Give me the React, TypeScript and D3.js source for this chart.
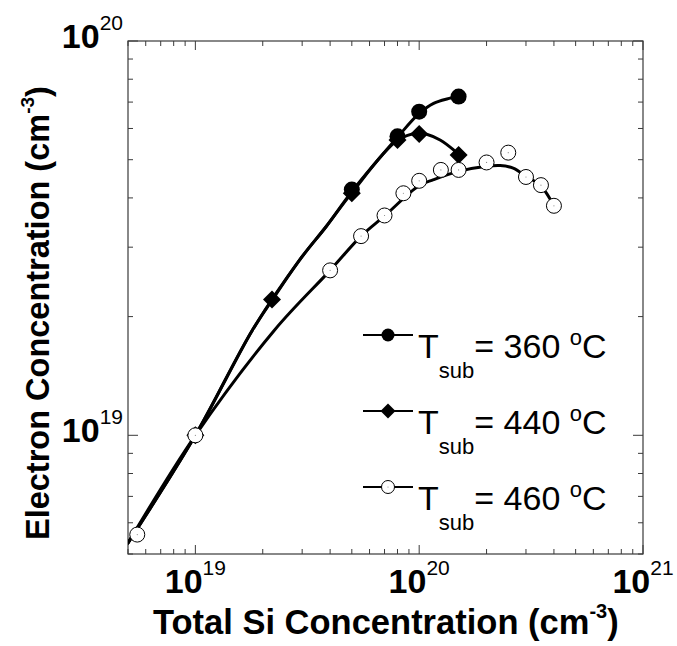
import React from 'react';
import * as d3 from 'd3';

// Data
const s360X = [5e19, 8e19, 1e20, 1.5e20];
const s360Y = [4.2e19, 5.73e19, 6.62e19, 7.23e19];

const s440X = [1e19, 2.2e19, 5e19, 8e19, 1e20, 1.5e20];
const s440Y = [1e19, 2.21e19, 4.11e19, 5.61e19, 5.81e19, 5.14e19];

const s460X = [5.5e18, 1e19, 4e19, 5.5e19, 7e19, 8.5e19, 1e20, 1.25e20, 1.5e20, 2e20, 2.5e20, 3e20, 3.5e20, 4e20];
const s460Y = [5.6e18, 1e19, 2.62e19, 3.2e19, 3.61e19, 4.11e19, 4.42e19, 4.71e19, 4.71e19, 4.92e19, 5.21e19, 4.52e19, 4.31e19, 3.82e19];

// Fitted curves
const fit360X = [5e18, 1e19, 1.8e19, 2.93e19, 3.85e19, 5e19, 8e19, 1e20, 1.16e20, 1.33e20, 1.5e20];
const fit360Y = [5.33e18, 1e19, 1.85e19, 2.79e19, 3.39e19, 4.15e19, 5.7e19, 6.55e19, 6.95e19, 7.13e19, 7.22e19];

const fit440X = [5e18, 1e19, 1.8e19, 2.2e19, 2.93e19, 3.85e19, 5e19, 8e19, 1e20, 1.08e20, 1.24e20, 1.42e20, 1.5e20];
const fit440Y = [5.33e18, 1e19, 1.85e19, 2.2e19, 2.79e19, 3.39e19, 4.12e19, 5.6e19, 5.84e19, 5.8e19, 5.61e19, 5.3e19, 5.14e19];

const fit460X = [5e18, 1e19, 2.26e19, 4e19, 5.5e19, 7e19, 1e20, 1.16e20, 1.5e20, 2e20, 2.3e20, 2.63e20, 3.02e20, 3.47e20, 3.85e20];
const fit460Y = [5.33e18, 1e19, 1.85e19, 2.62e19, 3.2e19, 3.6e19, 4.3e19, 4.45e19, 4.67e19, 4.81e19, 4.83e19, 4.76e19, 4.53e19, 4.31e19, 3.97e19];

const xDomain = [5e18, 1e21];
const yDomain = [5e18, 1e20];
const xMajor = [19, 20, 21];
const yMajor = [19, 20];
const legendTemps = ['360', '440', '460'];

const FONT = '"Liberation Sans", Arial, Helvetica, sans-serif';

const W = 677, H = 646;
const L = 128, R = 643, T = 41, B = 554;

function minorTicks(domain: number[]) {
  const out: number[] = [];
  for (let d = 18; d <= 21; d++) {
    for (let m = 1; m <= 9; m++) {
      const v = m * Math.pow(10, d);
      if (v >= domain[0] * 0.9999 && v <= domain[1] * 1.0001) out.push(v);
    }
  }
  return out;
}

const Diamond = ({ cx, cy, s }: { cx: number; cy: number; s: number }) => (
  <path d={`M${cx},${cy - s}L${cx + s},${cy}L${cx},${cy + s}L${cx - s},${cy}Z`} fill="#000" />
);

const OpenCircle = ({ cx, cy, r }: { cx: number; cy: number; r: number }) => (
  <g>
    <circle cx={cx} cy={cy} r={r} fill="#fff" stroke="#000" strokeWidth={1} />
    <circle cx={cx} cy={cy} r={0.6} fill="#888" />
  </g>
);

export default function App() {
  const x = d3.scaleLog().domain(xDomain).range([L, R]);
  const y = d3.scaleLog().domain(yDomain).range([B, T]);
  const line = d3
    .line<[number, number]>()
    .x((d) => x(d[0]))
    .y((d) => y(d[1]))
    .curve(d3.curveCatmullRom.alpha(0.5));

  const zip = (a: number[], b: number[]) => a.map((v, i) => [v, b[i]] as [number, number]);

  const xt = minorTicks(xDomain);
  const yt = minorTicks(yDomain);
  const isMajor = (v: number) => Math.abs(Math.log10(v) - Math.round(Math.log10(v))) < 1e-9;

  const axisColor = '#3a3a3a';

  const legendRows = [0, 1, 2].map((i) => ({ temp: legendTemps[i], cy: 335 + i * 76 }));

  return (
    <svg width={W} height={H} style={{ position: 'absolute', left: 0, top: 0, background: '#fff' }} fontFamily={FONT}>
      <rect x={0} y={0} width={W} height={H} fill="#fff" />
      <defs>
        <clipPath id="plotclip">
          <rect x={L} y={T} width={R - L} height={B - T} />
        </clipPath>
      </defs>

      {/* frame */}
      <rect x={L} y={T} width={R - L} height={B - T} fill="none" stroke={axisColor} strokeWidth={1.2} />

      {/* x ticks */}
      {xt.map((v, i) => {
        const px = x(v);
        const len = isMajor(v) ? 9 : 5;
        return (
          <g key={'xt' + i}>
            <line x1={px} x2={px} y1={B} y2={B - len} stroke={axisColor} strokeWidth={1} />
            <line x1={px} x2={px} y1={T} y2={T + len} stroke={axisColor} strokeWidth={1} />
          </g>
        );
      })}
      {/* y ticks */}
      {yt.map((v, i) => {
        const py = y(v);
        const len = isMajor(v) ? 10 : 5;
        return (
          <g key={'yt' + i}>
            <line x1={L} x2={L + len} y1={py} y2={py} stroke={axisColor} strokeWidth={1} />
            <line x1={R} x2={R - len} y1={py} y2={py} stroke={axisColor} strokeWidth={1} />
          </g>
        );
      })}

      {/* x tick labels */}
      {xMajor.map((e) => (
        <text key={'xl' + e} x={x(Math.pow(10, e))} y={593} textAnchor="middle" fontSize={34} fontWeight="bold" fill="#000">
          10
          <tspan fontSize={21} fontWeight="normal" dy={-18}>
            {e}
          </tspan>
        </text>
      ))}
      {/* y tick labels */}
      {yMajor.map((e) => (
        <text key={'yl' + e} x={123} y={y(Math.pow(10, e)) + 7} textAnchor="end" fontSize={34} fontWeight="bold" fill="#000">
          10
          <tspan fontSize={21} fontWeight="normal" dy={-18}>
            {e}
          </tspan>
        </text>
      ))}

      {/* axis titles */}
      <text x={153} y={634} fontSize={34.5} fontWeight="bold" fill="#000">
        Total Si Concentration (cm
        <tspan fontSize={20} dy={-16}>-3</tspan>
        <tspan dy={16}>)</tspan>
      </text>
      <text transform="translate(49,540) rotate(-90)" textAnchor="start" fontSize={32.5} fontWeight="bold" fill="#000">
        Electron Concentration (cm
        <tspan fontSize={19} dy={-15}>-3</tspan>
        <tspan dy={15}>)</tspan>
      </text>

      {/* curves */}
      <g clipPath="url(#plotclip)" fill="none" stroke="#000" strokeWidth={3} strokeLinecap="round">
        <path d={line(zip(fit460X, fit460Y)) || ''} />
        <path d={line(zip(fit440X, fit440Y)) || ''} />
        <path d={line(zip(fit360X, fit360Y)) || ''} />
      </g>

      {/* markers */}
      {s440X.map((v, i) => (
        <Diamond key={'d' + i} cx={x(v)} cy={y(s440Y[i])} s={9} />
      ))}
      {s360X.map((v, i) => (
        <circle key={'c' + i} cx={x(v)} cy={y(s360Y[i])} r={8} fill="#000" />
      ))}
      {s460X.map((v, i) => (
        <OpenCircle key={'o' + i} cx={x(v)} cy={y(s460Y[i])} r={7.5} />
      ))}

      {/* legend */}
      {legendRows.map((row, i) => (
        <g key={'lg' + i}>
          <line x1={363} x2={413} y1={row.cy} y2={row.cy} stroke="#000" strokeWidth={2} />
          {i === 0 && <circle cx={388} cy={row.cy} r={6.5} fill="#000" />}
          {i === 1 && <Diamond cx={388} cy={row.cy} s={7.5} />}
          {i === 2 && <OpenCircle cx={388} cy={row.cy} r={6.5} />}
          <text x={418} y={row.cy + 23} fontSize={34} fill="#000">
            T
            <tspan fontSize={22} dy={20}>sub</tspan>
            <tspan dy={-20}>= {row.temp} </tspan>
            <tspan fontSize={22} dy={-13}>o</tspan>
            <tspan dy={13}>C</tspan>
          </text>
        </g>
      ))}
    </svg>
  );
}
